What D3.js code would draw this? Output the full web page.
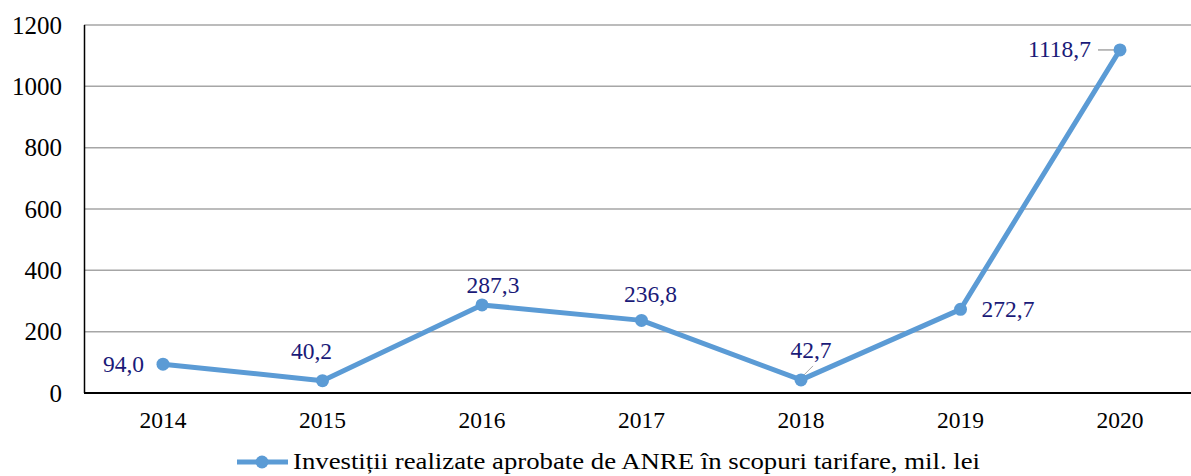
<!doctype html>
<html lang="ro">
<head>
<meta charset="utf-8">
<script src="https://d3js.org/d3.v7.min.js"></script>
<style>
  body { margin: 0; background: #fff; }
</style>
</head>
<body>
<div id="chart"></div>
<script>
// data
var years = ["2014", "2015", "2016", "2017", "2018", "2019", "2020"];
var values = [94.0, 40.2, 287.3, 236.8, 42.7, 272.7, 1118.7];
var valueLabels = ["94,0", "40,2", "287,3", "236,8", "42,7", "272,7", "1118,7"];
var yTicks = [0, 200, 400, 600, 800, 1000, 1200];
var seriesName = "Investiții realizate aprobate de ANRE în scopuri tarifare, mil. lei";

var W = 1191, H = 476;
var blue = "#5b9bd5", navy = "#1a1a78";
var serif = "'Liberation Serif', 'Times New Roman', serif";

var svg = d3.select("#chart").append("svg")
    .attr("width", W).attr("height", H)
    .style("font-family", serif);

var x = d3.scalePoint()
    .domain(years)
    .range([163, 1120]);

var y = d3.scaleLinear()
    .domain([0, 1200])
    .range([393, 25]);

// gridlines
svg.append("g")
  .selectAll("line")
  .data(yTicks.filter(function(d) { return d > 0; }))
  .enter().append("line")
    .attr("x1", 84).attr("x2", W)
    .attr("y1", function(d) { return y(d); })
    .attr("y2", function(d) { return y(d); })
    .attr("stroke", "#a6a6a6")
    .attr("stroke-width", 1.5);

// axes lines
svg.append("line")
  .attr("x1", 84.5).attr("x2", 84.5)
  .attr("y1", y(1200)).attr("y2", y(0))
  .attr("stroke", "#000").attr("stroke-width", 1.5);
svg.append("line")
  .attr("x1", 84).attr("x2", W)
  .attr("y1", y(0)).attr("y2", y(0))
  .attr("stroke", "#000").attr("stroke-width", 2);

// y tick labels
svg.append("g")
  .selectAll("text")
  .data(yTicks)
  .enter().append("text")
    .attr("x", 62)
    .attr("y", function(d) { return y(d); })
    .attr("dy", "0.35em")
    .attr("text-anchor", "end")
    .style("font-family", serif)
    .attr("font-size", 25)
    .text(function(d) { return d; });

// x tick labels
svg.append("g")
  .selectAll("text")
  .data(years)
  .enter().append("text")
    .attr("x", function(d) { return x(d); })
    .attr("y", 428)
    .attr("text-anchor", "middle")
    .style("font-family", serif)
    .attr("font-size", 23.5)
    .text(function(d) { return d; });

// leader lines
svg.append("line")
  .attr("x1", x("2018") + 2).attr("y1", y(42.7) - 4)
  .attr("x2", x("2018") + 12).attr("y2", y(42.7) - 14)
  .attr("stroke", "#a6a6a6").attr("stroke-width", 1);
svg.append("line")
  .attr("x1", 1098).attr("y1", y(1118.7))
  .attr("x2", x("2020")).attr("y2", y(1118.7))
  .attr("stroke", "#a6a6a6").attr("stroke-width", 1.5);

// line
var line = d3.line()
  .x(function(d, i) { return x(years[i]); })
  .y(function(d) { return y(d); });

svg.append("path")
  .datum(values)
  .attr("d", line)
  .attr("fill", "none")
  .attr("stroke", blue)
  .attr("stroke-width", 5)
  .attr("stroke-linejoin", "round");

svg.append("g")
  .selectAll("circle")
  .data(values)
  .enter().append("circle")
    .attr("cx", function(d, i) { return x(years[i]); })
    .attr("cy", function(d) { return y(d); })
    .attr("r", 6.5)
    .attr("fill", blue);

// data labels: offset from point [dx, dy, anchor]
var labelPos = [
  [-19, 8, "end"],
  [-11, -22, "middle"],
  [11, -12, "middle"],
  [9, -18, "middle"],
  [10, -22, "middle"],
  [21, 8, "start"],
  [-29, 7, "end"]
];

svg.append("g")
  .selectAll("text")
  .data(values)
  .enter().append("text")
    .attr("x", function(d, i) { return x(years[i]) + labelPos[i][0]; })
    .attr("y", function(d, i) { return y(d) + labelPos[i][1]; })
    .attr("text-anchor", function(d, i) { return labelPos[i][2]; })
    .style("font-family", serif)
    .attr("font-size", 23.5)
    .attr("fill", navy)
    .text(function(d, i) { return valueLabels[i]; });

// legend
var lg = svg.append("g");
lg.append("line")
  .attr("x1", 237).attr("x2", 288)
  .attr("y1", 462).attr("y2", 462)
  .attr("stroke", blue).attr("stroke-width", 5);
lg.append("circle")
  .attr("cx", 262).attr("cy", 462).attr("r", 6.5)
  .attr("fill", blue);
lg.append("text")
  .attr("x", 293).attr("y", 469)
  .style("font-family", serif)
  .attr("font-size", 24)
  .attr("textLength", 687)
  .attr("lengthAdjust", "spacingAndGlyphs")
  .text(seriesName);
</script>
</body>
</html>
